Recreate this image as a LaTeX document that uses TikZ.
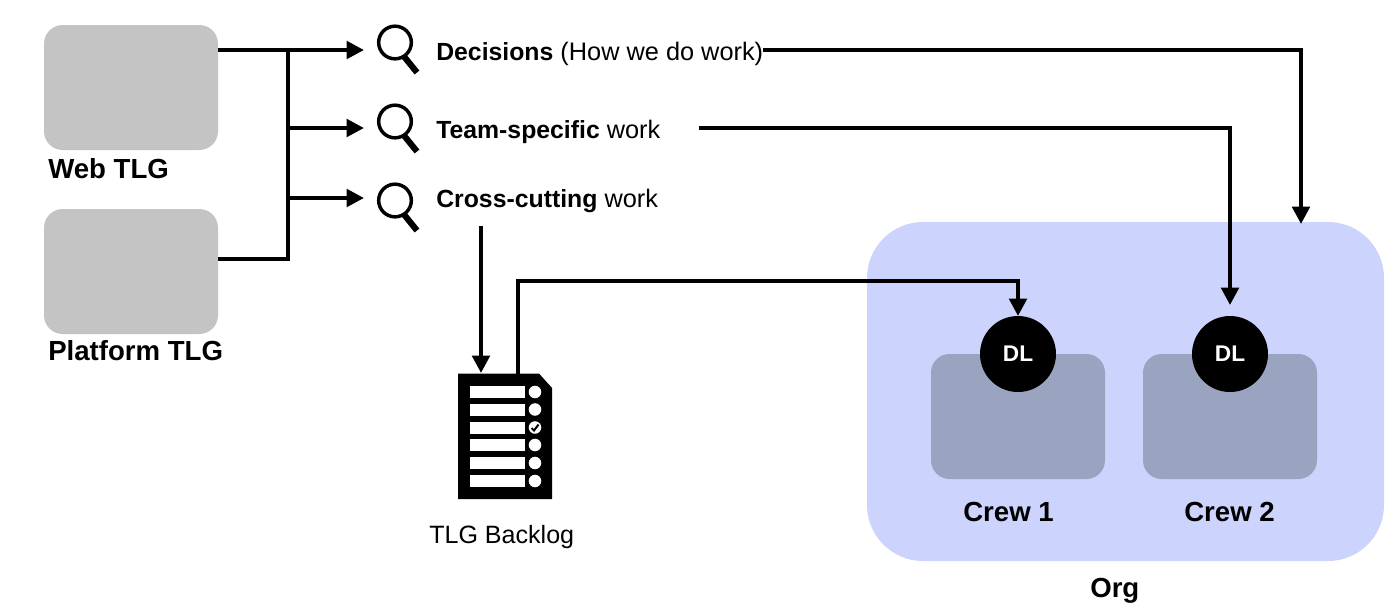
\documentclass[tikz,border=0pt]{standalone}
\usepackage{fontspec}
\setmainfont{Liberation Sans}
\usetikzlibrary{arrows.meta,calc}
\definecolor{greybox}{HTML}{C4C4C4}
\definecolor{orgfill}{HTML}{CCD3FC}
\definecolor{crewfill}{HTML}{9AA3C0}
\newcommand{\workbold}[1]{{\fontsize{18.6pt}{22pt}\selectfont\bfseries #1}}
\tikzset{
  conn/.style={line width=3pt,black},
  arrowed/.style={conn,-{Triangle[length=13pt,width=13pt]}},
  tlgbox/.style={fill=greybox,rounded corners=14pt,minimum width=130.5pt,minimum height=93.75pt,inner sep=0pt},
  crewbox/.style={fill=crewfill,rounded corners=14pt,minimum width=130.5pt,minimum height=93.75pt,inner sep=0pt},
  orgbox/.style={fill=orgfill,rounded corners=42pt,minimum width=387.75pt,minimum height=254.25pt,inner sep=0pt},
  dlnode/.style={circle,fill=black,text=white,minimum size=57pt,inner sep=0pt,font=\fontsize{17pt}{20pt}\selectfont\bfseries},
  biglabel/.style={font=\fontsize{20.7pt}{24pt}\selectfont\bfseries,anchor=base west,inner sep=0pt},
  worklabel/.style={font=\fontsize{19pt}{22pt}\selectfont,anchor=west,inner sep=0pt,text height=16pt,text depth=0pt},
  lensring/.style={circle,draw=black,line width=2.6pt,minimum size=24.5pt,inner sep=0pt},
  lenshandle/.style={line width=4.6pt,black},
  listrow/.style={fill=white,minimum width=41.25pt,minimum height=9pt,inner sep=0pt},
  listdot/.style={circle,fill=white,minimum size=9.4pt,inner sep=0pt},
}
\begin{document}
\begin{tikzpicture}[x=0.75pt,y=-0.75pt]
\useasboundingbox[fill=white] (0,0) rectangle (1400,608);
% boxes
\node[tlgbox] (web) at (131,87.5) {};
\node[tlgbox] (platform) at (131,271.5) {};
\node[orgbox] (org) at (1125.5,391.5) {};
\node[crewbox] (crewa) at (1018,416.5) {};
\node[crewbox] (crewb) at (1230,416.5) {};
\node[dlnode] (dla) at (1018,354) {DL};
\node[dlnode] (dlb) at (1230,354) {DL};
% labels
\node[biglabel] (weblabel) at (48,178) {Web TLG};
\node[biglabel] (platformlabel) at (48,360) {Platform TLG};
\node[biglabel] (crewalabel) at (963,521) {Crew 1};
\node[biglabel] (crewblabel) at (1184,521) {Crew 2};
\node[biglabel] (orglabel) at (1090,597) {Org};
\node[font=\fontsize{18.8pt}{22pt}\selectfont,anchor=base west,inner sep=0pt] (backloglabel) at (429,543) {TLG Backlog};
\node[worklabel] (decisions) at (436,50) {\workbold{Decisions} (How we do work)};
\node[worklabel] (team) at (436,128) {\workbold{Team-specific} work};
\node[worklabel] (cross) at (436,197) {\workbold{Cross-cutting} work};
% magnifiers
\node[lensring] (lensa) at (395,42.5) {};
\node[lensring] (lensb) at (395,121.5) {};
\node[lensring] (lensc) at (395,200.5) {};
\foreach \l in {lensa,lensb,lensc}{
  \draw[lenshandle] ($(\l.center)+(9,14)$) -- ($(\l.center)+(22,30)$);
}
% backlog document
\fill[black] (458,373.5) -- (539,373.5) -- (552,388) -- (552,499) -- (458,499) -- cycle;
\node[minimum width=70.5pt,minimum height=94pt,inner sep=0pt] (backlog) at (505,436.5) {};
\foreach \y/\n in {392/a,409.5/b,427.5/c,445/d,463/e,481/f}{
  \node[listrow] (row\n) at (497.5,\y) {};
  \node[listdot] (dot\n) at (535,\y) {};
}
\draw[black,line width=1.5pt] ($(dotc.center)+(-3.5,0.5)$) -- ($(dotc.center)+(-1,3)$) -- ($(dotc.center)+(3.5,-3)$);
% connector coordinates
\coordinate (weba) at (218,50);
\coordinate (platforma) at (218,259);
\coordinate (bus) at (288,50);
\coordinate (busend) at (288,259);
\coordinate (bustipa) at (364,50);
\coordinate (bustipb) at (364,128);
\coordinate (bustipc) at (364,198);
\coordinate (teamout) at (699,128);
\coordinate (orgin) at (1301,224);
\coordinate (dlbin) at (1230,305);
\coordinate (dlain) at (1018,316);
\coordinate (crossout) at (481,226);
\coordinate (backlogin) at (481,373);
\coordinate (backlogout) at (518,374);
\coordinate (backlogup) at (518,281);
% connectors
\draw[arrowed] (weba) -- (bustipa);
\draw[conn,line cap=rect] (bus) -- (busend);
\draw[conn] (platforma) -- (busend);
\draw[arrowed] (bus |- bustipb) -- (bustipb);
\draw[arrowed] (bus |- bustipc) -- (bustipc);
\draw[arrowed] (decisions.east) -| (orgin);
\draw[arrowed] (teamout) -| (dlbin);
\draw[arrowed] (crossout) -- (backlogin);
\draw[arrowed] (backlogout) -- (backlogup) -| (dlain);
\end{tikzpicture}
\end{document}
